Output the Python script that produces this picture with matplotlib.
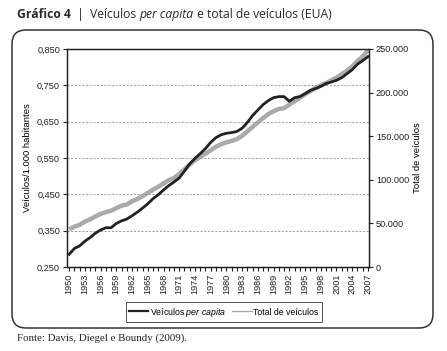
import matplotlib
matplotlib.use("Agg")
import matplotlib.pyplot as plt
import matplotlib.patches as mpatches
from matplotlib.lines import Line2D
from matplotlib.ticker import FixedLocator, MultipleLocator

plt.rcParams['font.family'] = ['Liberation Sans', 'DejaVu Sans']
plt.rcParams['mathtext.fontset'] = 'custom'
plt.rcParams['mathtext.it'] = 'Liberation Sans:italic'
plt.rcParams['mathtext.rm'] = 'Liberation Sans'

years = list(range(1950, 2008))

# veiculos por habitante (eixo esquerdo)
per_capita = [0.285, 0.301, 0.308, 0.321, 0.331, 0.343, 0.352, 0.358, 0.358, 0.370,
              0.377, 0.382, 0.391, 0.401, 0.412, 0.424, 0.438, 0.449, 0.462, 0.474,
              0.484, 0.495, 0.514, 0.534, 0.549, 0.562, 0.576, 0.593, 0.606, 0.614,
              0.618, 0.620, 0.623, 0.632, 0.648, 0.667, 0.682, 0.697, 0.708, 0.716,
              0.719, 0.719, 0.706, 0.716, 0.719, 0.727, 0.736, 0.741, 0.747, 0.755,
              0.759, 0.764, 0.771, 0.782, 0.793, 0.808, 0.818, 0.829]

# total de veiculos, milhares (eixo direito)
total = [43300, 46250, 48330, 52080, 54580, 57920, 60830, 62920, 64580, 67500,
         70420, 71670, 75420, 77920, 81250, 85000, 88750, 92080, 95830, 99580,
         102080, 106670, 112080, 117500, 122500, 126250, 130000, 133750, 137920, 140830,
         142920, 144580, 146670, 150420, 155420, 160830, 165830, 170830, 175420, 178750,
         181250, 182080, 186250, 190000, 194170, 197920, 201670, 205420, 208330, 210830,
         214170, 217080, 221250, 225000, 230000, 236250, 241250, 248750]

left_ticks = [0.25, 0.35, 0.45, 0.55, 0.65, 0.75, 0.85]
left_labels = ['0,250', '0,350', '0,450', '0,550', '0,650', '0,750', '0,850']
right_ticks = [0, 50000, 100000, 150000, 200000, 250000]
right_labels = ['0', '50.000', '100.000', '150.000', '200.000', '250.000']

fig = plt.figure(figsize=(4.47, 3.51), dpi=100)

# moldura arredondada
box = mpatches.FancyBboxPatch((0.12, 0.23), 4.21, 2.98,
                              boxstyle="round,pad=0,rounding_size=0.14",
                              transform=fig.dpi_scale_trans,
                              fill=False, edgecolor='#333333', linewidth=1.1)
fig.patches.append(box)

ax = fig.add_axes([0.150, 0.2393, 0.6755, 0.6211])
ax2 = ax.twinx()

ax.set_ylim(0.25, 0.85)
ax2.set_ylim(0, 250000)
ax.set_xlim(1949.6, 2007.2)

for y in left_ticks[1:-1]:
    ax.axhline(y, color='#a0a0a0', linewidth=0.7, linestyle=(0, (2.2, 1.6)), zorder=0)

ax2.plot(years, total, color='#aaaaaa', linewidth=3.2, solid_capstyle='butt', zorder=2)
ax.plot(years, per_capita, color='#222222', linewidth=2.0, zorder=3)
ax.set_zorder(ax2.get_zorder() + 1)
ax.patch.set_visible(False)

ax.set_yticks(left_ticks)
ax.set_yticklabels(left_labels)
ax2.set_yticks(right_ticks)
ax2.set_yticklabels(right_labels)

ax.xaxis.set_major_locator(FixedLocator(list(range(1950, 2008, 3))))
ax.xaxis.set_minor_locator(MultipleLocator(1))
ax.set_xticklabels([str(y) for y in range(1950, 2008, 3)], rotation=90)

for a in (ax, ax2):
    a.tick_params(axis='both', which='both', direction='out', length=3, width=0.8,
                  labelsize=6.6, colors='#222222', pad=2)
    for s in a.spines.values():
        s.set_linewidth(0.9)
        s.set_color('#222222')

ax.set_ylabel('Veículos/1.000 habitantes', fontsize=6.8, labelpad=4)
ax2.set_ylabel('Total de veículos', fontsize=6.8, labelpad=3)

handles = [Line2D([], [], color='#222222', linewidth=1.6),
           Line2D([], [], color='#aaaaaa', linewidth=1.0)]
leg = fig.legend(handles, ['Veículos $\\it{per\\ capita}$', 'Total de veículos'],
                 loc='center', bbox_to_anchor=(0.501, 0.111), ncol=2, fontsize=6.3,
                 frameon=True, fancybox=False, handlelength=2.2, handletextpad=0.2,
                 columnspacing=0.7, borderpad=0.4)
leg.get_frame().set_edgecolor('#222222')
leg.get_frame().set_linewidth(0.7)

# titulo em partes (negrito / normal / italico)
fig.canvas.draw()
renderer = fig.canvas.get_renderer()
tfont = 'Open Sans'
parts = [('Gráfico 4', 'bold', 'normal'), ('  |  ', 'normal', 'normal'),
         ('Veículos ', 'normal', 'normal'), ('per capita', 'normal', 'italic'),
         (' e total de veículos (EUA)', 'normal', 'normal')]
x = 17
for txt, w, st in parts:
    t = fig.text(x / 447, 1 - 18 / 351, txt, fontsize=8.7, fontweight=w, fontstyle=st,
                 family=tfont, color='#2a2a2a', va='baseline', ha='left')
    bb = t.get_window_extent(renderer)
    x = bb.x1

fig.text(17 / 447, 1 - 341 / 351, 'Fonte: Davis, Diegel e Boundy (2009).',
         family='Liberation Serif', fontsize=7.8, color='#222222', va='baseline')

fig.savefig('out.png', dpi=100)
